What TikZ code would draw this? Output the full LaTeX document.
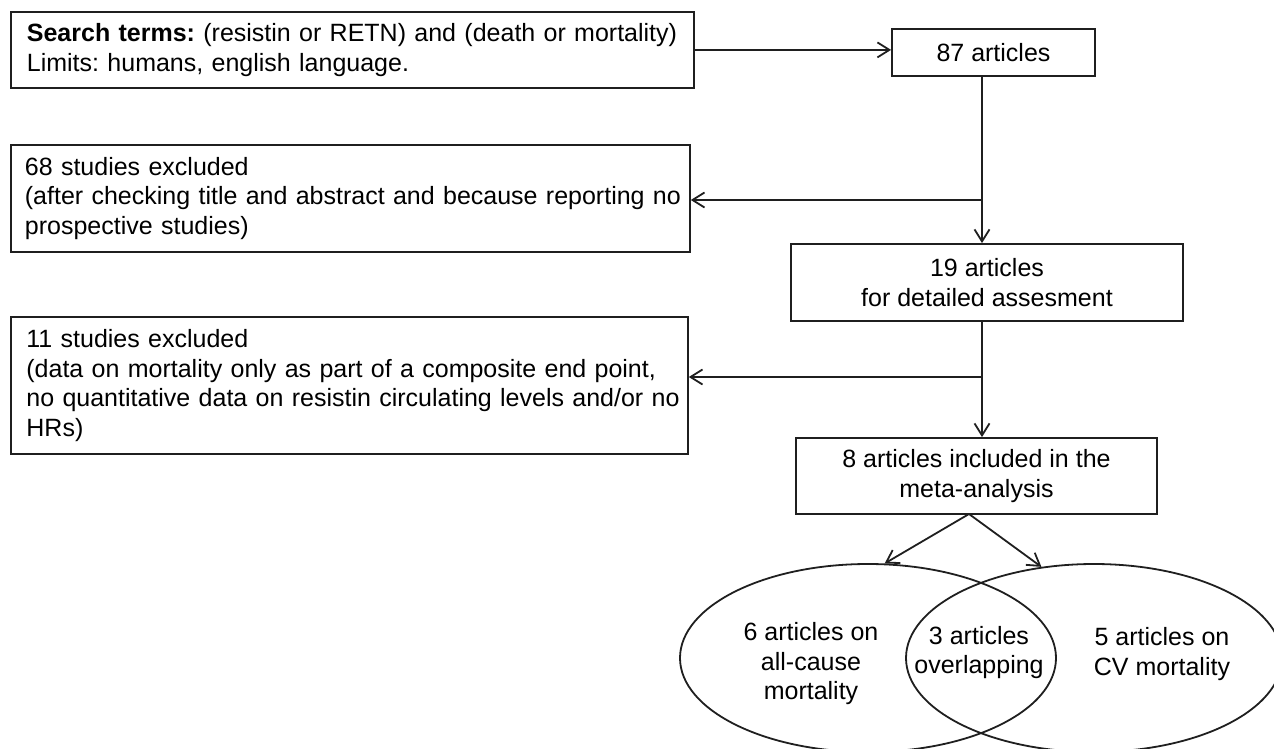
\documentclass[tikz,border=0pt]{standalone}
\usepackage{fontspec}
\setmainfont{Liberation Sans}
\usetikzlibrary{arrows.meta,shapes.geometric}
\newcommand\diafont{\fontsize{25}{29.5}\selectfont\frenchspacing}
\begin{document}
\begin{tikzpicture}[x=1pt,y=-1pt,
  ln/.style={draw=black!88, line width=1.8pt},
  arr/.style={draw=black!88, line width=1.8pt, -{Straight Barb[length=12pt,width=15pt]}},
  lbox/.style={ln, rectangle, anchor=north west, align=left, font=\diafont, inner ysep=0pt},
  cbox/.style={ln, rectangle, align=center, font=\diafont, inner sep=0pt},
  venn/.style={ln, ellipse, minimum width=376pt, minimum height=188pt, inner sep=0pt},
  txt/.style={align=center, font=\diafont, inner sep=0pt},
]
\useasboundingbox (0,0) rectangle (1274,749);

% left boxes
\node[lbox, text width=651pt, inner xsep=16pt, minimum height=76pt] (b1) at (10,11)
  {\mbox{\textbf{Search terms:} (resistin or RETN) and (death or mortality)}\\\mbox{Limits: humans, english language.}};
\node[lbox, text width=651pt, inner xsep=14pt, minimum height=107pt] (b2) at (10,144)
  {68 studies excluded\\\mbox{(after checking title and abstract and because reporting no}\\prospective studies)};
\node[lbox, text width=646pt, inner xsep=15.5pt, minimum height=137pt] (b3) at (10,316)
  {11 studies excluded\\\makebox[646pt][s]{(data on mortality only as part of a composite end point,}\\\makebox[646pt][s]{no quantitative data on resistin circulating levels and/or no}\\HRs)};

% right boxes
\node[cbox, minimum width=203pt, minimum height=47pt] (a87) at (993.5,52.5) {87 articles};
\node[cbox, minimum width=392pt, minimum height=77pt] (a19) at (987,282.5) {19 articles\\for detailed assesment};
\node[cbox, minimum width=361pt, minimum height=76pt] (a8) at (976.5,476) {8 articles included in the\\meta-analysis};

% venn
\node[venn] (e1) at (868,658) {};
\node[venn] (e2) at (1094,658) {};
\node[txt] (t1) at (811,664) {6 articles on\\all-cause\\mortality};
\node[txt] (t3) at (979,652.5) {3 articles\\overlapping};
\node[txt] (t2) at (1162,654) {5 articles on\\CV mortality};

% connectors
\coordinate (x1) at (982,0);
\coordinate (j1) at (982,200);
\coordinate (j2) at (982,377);
\coordinate (apex) at (969,514);
\draw[arr] (b1.east) -- (b1.east -| a87.west);
\draw[arr] (a87.south -| x1) -- (a19.north -| x1);
\draw[arr] (j1) -- (j1 -| b2.east);
\draw[arr] (a19.south -| x1) -- (a8.north -| x1);
\draw[arr] (j2) -- (j2 -| b3.east);
\draw[arr] (apex) -- (e1.80);
\draw[arr] (apex) -- (e2.120);
\end{tikzpicture}
\end{document}
